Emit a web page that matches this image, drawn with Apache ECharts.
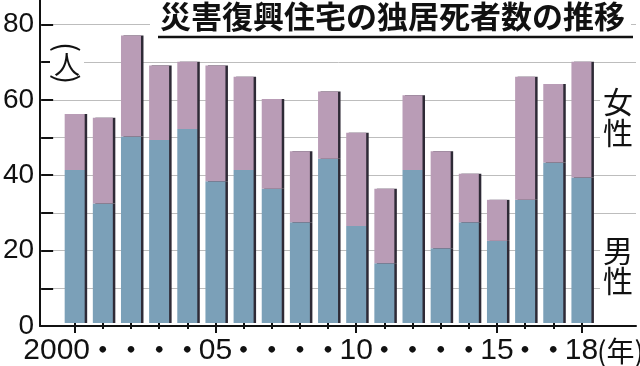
<!DOCTYPE html>
<html>
<head>
<meta charset="utf-8">
<script src="https://cdn.jsdelivr.net/npm/echarts@6/dist/echarts.min.js"></script>
<style>
	html, body { margin: 0; padding: 0; background: #fff; }
	#chart { width: 640px; height: 366px; }
</style>
</head>
<body>
<div id="chart"></div>
<script>
// 年（横軸ラベル）
const years = ['2000', '・', '・', '・', '・', '05', '・', '・', '・', '・', '10', '・', '・', '・', '・', '15', '・', '・', '18'];
// 男性・女性（人）
const male = [41, 32, 50, 49, 52, 38, 41, 36, 27, 44, 26, 16, 41, 20, 27, 22, 33, 43, 39];
const female = [15, 23, 27, 20, 18, 31, 25, 24, 19, 18, 25, 20, 20, 26, 13, 11, 33, 21, 31];
// 長い目盛りを付ける位置
const majorIdx = [0, 5, 10, 15, 18];
const yMax = 80;
const yStep = 10;

const numFont = '"Liberation Sans", sans-serif';
const jpFont = '"Noto Sans CJK JP", sans-serif';

let chart = echarts.init(document.getElementById('chart'));

let barStyle = function (color) {
	return {
		color: color,
		shadowColor: '#2e2a36',
		shadowOffsetX: 2.5,
		shadowOffsetY: 0,
		shadowBlur: 0,
	};
};

let hiddenAxis = {
	show: true,
	axisLine: { show: false },
	axisTick: { show: false },
	axisLabel: { show: false },
	splitLine: { show: false },
};

let option = {
	animation: false,
	grid: [
		// 軸線だけ
		{ left: 40, right: 4, top: 0, bottom: 40 },
		// 目盛り・グリッド線
		{ left: 40, right: 4, top: 24.4, bottom: 40 },
		// 棒
		{ left: 60.6, right: 44.5, top: 24.4, bottom: 40 },
	],
	xAxis: [
		{
			gridIndex: 0, type: 'value', min: 0, max: 1,
			axisLine: { show: true, lineStyle: { color: '#111', width: 2 } },
			axisTick: { show: false }, axisLabel: { show: false }, splitLine: { show: false },
		},
		Object.assign({ gridIndex: 1, type: 'value', min: 0, max: 1 }, hiddenAxis),
		{
			gridIndex: 2, type: 'category', data: years, position: 'bottom',
			axisLine: { show: false },
			axisTick: { show: true, alignWithLabel: true, length: 6, lineStyle: { color: '#111', width: 2 } },
			axisLabel: {
				interval: 0,
				margin: 13,
				formatter: function (v) {
					if (v === '・') return '{d|・}';
					if (v === '2000') return '{f|' + v + '}';
					return '{n|' + v + '}';
				},
				rich: {
					n: { fontFamily: numFont, fontSize: 30, color: '#111' },
					f: { fontFamily: numFont, fontSize: 30, color: '#111', padding: [0, 36, 0, 0] },
					d: { fontFamily: jpFont, fontSize: 26, fontWeight: 'bold', color: '#111' },
				},
			},
			splitLine: { show: false },
		},
		{
			gridIndex: 2, type: 'category', data: years, position: 'bottom',
			axisLine: { show: false },
			axisTick: {
				show: true, alignWithLabel: true, length: 10,
				interval: function (i) { return majorIdx.indexOf(i) >= 0; },
				lineStyle: { color: '#111', width: 2 },
			},
			axisLabel: { show: false },
			splitLine: { show: false },
		},
	],
	yAxis: [
		{
			gridIndex: 0, type: 'value', min: 0, max: 1,
			axisLine: { show: true, lineStyle: { color: '#111', width: 2 } },
			axisTick: { show: false }, axisLabel: { show: false }, splitLine: { show: false },
		},
		{
			gridIndex: 1, type: 'value', min: 0, max: yMax, interval: yStep,
			axisLine: { show: false },
			axisTick: { show: true, inside: true, length: 12, lineStyle: { color: '#111', width: 2 } },
			axisLabel: {
				margin: 7,
				fontFamily: numFont,
				fontSize: 28,
				color: '#111',
				formatter: function (v) { return v % 20 === 0 ? v : ''; },
			},
			splitLine: { show: true, showMinLine: false, lineStyle: { color: '#bdbdbd', width: 1, type: 'solid' } },
		},
		Object.assign({ gridIndex: 2, type: 'value', min: 0, max: yMax }, hiddenAxis),
	],
	graphic: [
		{
			type: 'text', z: 100,
			style: {
				text: '災害復興住宅の独居死者数の推移',
				x: 150, y: 16, verticalAlign: 'middle',
				font: 'bold 31px "Noto Sans CJK JP"', fill: '#111',
				backgroundColor: '#fff', padding: [3, 6, 3, 10],
			},
		},
		{
			type: 'line', z: 101,
			shape: { x1: 158, y1: 37, x2: 633, y2: 37 },
			style: { stroke: '#111', lineWidth: 2.5 },
		},
		{
			// 縦書きの（人）
			type: 'rect', z: 99,
			shape: { x: 50, y: 40, width: 34, height: 46 },
			style: { fill: '#fff' },
		},
		{
			type: 'text', z: 100, x: 67, y: 47, rotation: -Math.PI / 2,
			style: {
				text: '(', align: 'center', verticalAlign: 'middle',
				font: '30px "Noto Sans CJK JP"', fill: '#111',
			},
		},
		{
			type: 'text', z: 100,
			style: {
				text: '人', x: 67, y: 64, align: 'center', verticalAlign: 'middle',
				font: '26px "Noto Sans CJK JP"', fill: '#111',
			},
		},
		{
			type: 'text', z: 100, x: 67, y: 79, rotation: -Math.PI / 2,
			style: {
				text: ')', align: 'center', verticalAlign: 'middle',
				font: '30px "Noto Sans CJK JP"', fill: '#111',
			},
		},
		{
			type: 'text', z: 100,
			style: {
				text: '女\n性',
				x: 618, y: 117, align: 'center', verticalAlign: 'middle',
				font: '30px "Noto Sans CJK JP"', lineHeight: 31, fill: '#111',
				backgroundColor: '#fff', padding: [2, 3],
			},
		},
		{
			type: 'text', z: 100,
			style: {
				text: '男\n性',
				x: 618, y: 266, align: 'center', verticalAlign: 'middle',
				font: '30px "Noto Sans CJK JP"', lineHeight: 30, fill: '#111',
				backgroundColor: '#fff', padding: [2, 3],
			},
		},
		{
			type: 'text', z: 100,
			style: {
				text: '(年)',
				x: 597, y: 351, verticalAlign: 'middle',
				font: '28px "Noto Sans CJK JP"', fill: '#111',
			},
		},
	],
	series: [
		{
			name: '男性', type: 'bar', stack: 'all',
			xAxisIndex: 2, yAxisIndex: 2,
			barWidth: 20,
			itemStyle: barStyle('#7ba0b8'),
			data: male,
		},
		{
			name: '女性', type: 'bar', stack: 'all',
			xAxisIndex: 2, yAxisIndex: 2,
			barWidth: 20,
			itemStyle: barStyle('#b99cb6'),
			data: female,
		},
	],
};

chart.setOption(option);
</script>
</body>
</html>
